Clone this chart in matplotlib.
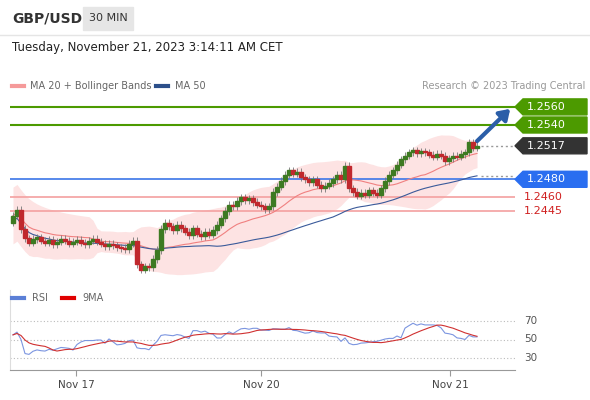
import matplotlib
matplotlib.use("Agg")
import matplotlib.pyplot as plt
from matplotlib.patches import Polygon, Rectangle
import numpy as np
import pandas as pd

closes = [1.2440,1.2446,1.2425,1.2415,1.2410,1.2414,
 1.2416,1.2412,1.2410,1.2413,1.2408,1.2411,1.2414,1.2412,1.2409,1.2411,1.2413,1.2410,1.2408,1.2412,1.2414,1.2411,1.2409,1.2406,1.2409,1.2407,1.2405,1.2404,
 1.2403,1.2409,1.2412,1.2386,1.2380,1.2384,1.2383,1.2392,1.2402,1.2425,1.2432,1.2428,1.2424,1.2430,1.2426,1.2422,1.2418,1.2426,1.2420,1.2417,1.2422,1.2419,
 1.2424,1.2430,1.2437,1.2445,1.2452,1.2450,1.2456,1.2460,1.2457,1.2459,1.2455,1.2452,1.2450,1.2447,1.2450,1.2466,1.2472,1.2478,1.2485,1.2490,1.2486,1.2488,
 1.2482,1.2480,1.2477,1.2480,1.2474,1.2470,1.2473,1.2476,1.2480,1.2485,1.2480,1.2495,1.2470,1.2466,1.2462,1.2465,1.2463,1.2468,1.2465,1.2463,1.2470,1.2478,
 1.2485,1.2490,1.2496,1.2502,1.2506,1.2510,1.2512,1.2509,1.2511,1.2510,1.2507,1.2505,1.2508,1.2506,1.2500,1.2503,1.2506,1.2505,1.2508,1.2510,1.2521,1.2515,1.2517]
opens = [1.2432] + closes[:-1]
wick = 0.0004
levels_green = [1.2560, 1.2540]
level_blue = 1.2480
levels_red = [1.2460, 1.2445]
last_price = 1.2517
date_labels = ["Nov 17", "Nov 20", "Nov 21"]
date_pos = [15.75, 62, 109.25]

c = pd.Series(closes)
ma20 = c.rolling(20, min_periods=1).mean()
sd20 = c.rolling(20, min_periods=5).std().bfill()
band = 1.5*sd20 + 0.0008
ma50 = c.rolling(50, min_periods=1).mean() - 0.0006
d = c.diff().fillna(0)
up = d.clip(lower=0).rolling(14, min_periods=1).mean()
dn = (-d.clip(upper=0)).rolling(14, min_periods=1).mean()
rsi = 100 - 100/(1 + up/(dn+1e-9))
rsi = 50 + (rsi - 50)*0.45
rsi.iloc[:3] = [55, 58, 50]
rsi9 = rsi.rolling(9, min_periods=1).mean()

W, H = 590, 400
fig = plt.figure(figsize=(5.9, 4.0), dpi=100)
fig.patch.set_facecolor("white")
def ax_px(x0, y0, x1, y1):
    return fig.add_axes([x0/W, 1-y1/H, (x1-x0)/W, (y1-y0)/H])

fig.text(12/W, 1-18/H, "GBP/USD", fontsize=10, fontweight="bold", color="#333", va="center")
fig.patches.append(Rectangle((83/W, 1-30/H), 50/W, 23/H, transform=fig.transFigure, color="#e6e6e6"))
fig.text(108/W, 1-18/H, "30 MIN", fontsize=8, color="#333", va="center", ha="center")
fig.text(12/W, 1-47/H, "Tuesday, November 21, 2023 3:14:11 AM CET", fontsize=8.5, color="#222", va="center")
fig.lines.append(plt.Line2D([0, 1], [1-35/H]*2, transform=fig.transFigure, color="#e5e5e5", lw=1))
fig.lines.append(plt.Line2D([12/W, 24/W], [1-86/H]*2, transform=fig.transFigure, color="#f59a9a", lw=3))
fig.text(30/W, 1-86/H, "MA 20 + Bollinger Bands", fontsize=7, color="#666", va="center")
fig.lines.append(plt.Line2D([156/W, 168/W], [1-86/H]*2, transform=fig.transFigure, color="#2c4f8a", lw=3))
fig.text(175/W, 1-86/H, "MA 50", fontsize=7, color="#666", va="center")
fig.text(585/W, 1-86/H, "Research © 2023 Trading Central", fontsize=7, color="#999", va="center", ha="right")

ax = ax_px(10, 85, 515, 280)
k = 9050.0
ax.set_ylim(1.2540 - 155/k, 1.2540 + 40/k)
ax.set_xlim(-0.75, 125.5)
ax.axis("off")
x = np.arange(len(closes))
ax.fill_between(x, ma20+band, ma20-band, color="#fde3e3", lw=0, zorder=1)
ax.plot(x, ma20, color="#f08080", lw=0.8, zorder=2)
ax.plot(x, ma50, color="#3a5a9a", lw=0.8, zorder=2)
for lv in levels_green:
    ax.axhline(lv, color="#4c9a00", lw=1.5, zorder=1)
ax.axhline(level_blue, color="#3b76e8", lw=1.2, zorder=1)
for lv in levels_red:
    ax.axhline(lv, color="#f4a0a0", lw=1.2, zorder=1)
for i, (o, cl) in enumerate(zip(opens, closes)):
    col = "#3d7a22" if cl >= o else "#c0282d"
    ax.vlines(i, min(o, cl)-wick, max(o, cl)+wick, color="#777", lw=0.6, zorder=3)
    ax.add_patch(Rectangle((i-0.38, min(o, cl)), 0.76, max(abs(cl-o), 0.00008), color=col, zorder=4))
n = len(closes)
ax.plot([n, 125.5], [last_price]*2, color="#999", ls=(0, (1.5, 2)), lw=1)
ax.plot([n, 125.5], [ma50.iloc[-1]]*2, color="#999", ls=(0, (1.5, 2)), lw=1)
ax.annotate("", xy=(124.8, 1.2560), xytext=(115.5, 1.2520),
            arrowprops=dict(arrowstyle="-|>,head_width=0.4,head_length=0.6", color="#2b5ea8", lw=3))

def tag(price, text, bg, fg="white"):
    yc = 125 + (1.2540-price)*k
    if bg is None:
        fig.text(524/W, 1-yc/H, text, fontsize=8, color=fg, va="center")
        return
    pts = [(515, yc), (523, yc-8), (587, yc-8), (587, yc+8), (523, yc+8)]
    fig.patches.append(Polygon([(px/W, 1-py/H) for px, py in pts], closed=True,
                               transform=fig.transFigure, color=bg))
    fig.text(527/W, 1-yc/H, text, fontsize=8, color=fg, va="center")
tag(1.2560, "1.2560", "#4c9a00")
tag(1.2540, "1.2540", "#4c9a00")
tag(last_price, "1.2517", "#333333")
tag(level_blue, "1.2480", "#2a6ef0")
tag(1.2460, "1.2460", None, "#d02020")
tag(1.2445, "1.2445", None, "#d02020")

fig.lines.append(plt.Line2D([12/W, 24/W], [1-298/H]*2, transform=fig.transFigure, color="#5b7fd6", lw=3))
fig.text(32/W, 1-298/H, "RSI", fontsize=7, color="#666", va="center")
fig.lines.append(plt.Line2D([62/W, 74/W], [1-298/H]*2, transform=fig.transFigure, color="#e00000", lw=3))
fig.text(82/W, 1-298/H, "9MA", fontsize=7, color="#666", va="center")

ax2 = ax_px(10, 290, 515, 370)
ax2.set_xlim(-0.75, 125.5)
ax2.set_ylim(30-12/0.925, 70+31/0.925)
for lv in (70, 50, 30):
    ax2.axhline(lv, color="#bbb", ls=(0, (1, 2)), lw=0.8)
    fig.text(524/W, 1-(321+(70-lv)*0.925)/H, str(lv), fontsize=7.5, color="#555", va="center")
ax2.plot(x, rsi, color="#7b95e0", lw=0.8)
ax2.plot(x, rsi9, color="#d03030", lw=0.8)
for s in ("top", "right"):
    ax2.spines[s].set_visible(False)
ax2.spines["left"].set_color("#ddd")
ax2.spines["bottom"].set_color("#999")
ax2.set_yticks([])
ax2.set_xticks(date_pos)
ax2.set_xticklabels(date_labels, fontsize=7.5, color="#444")
ax2.tick_params(axis="x", length=4, color="#999", pad=3)

fig.savefig("out.png", dpi=100)
